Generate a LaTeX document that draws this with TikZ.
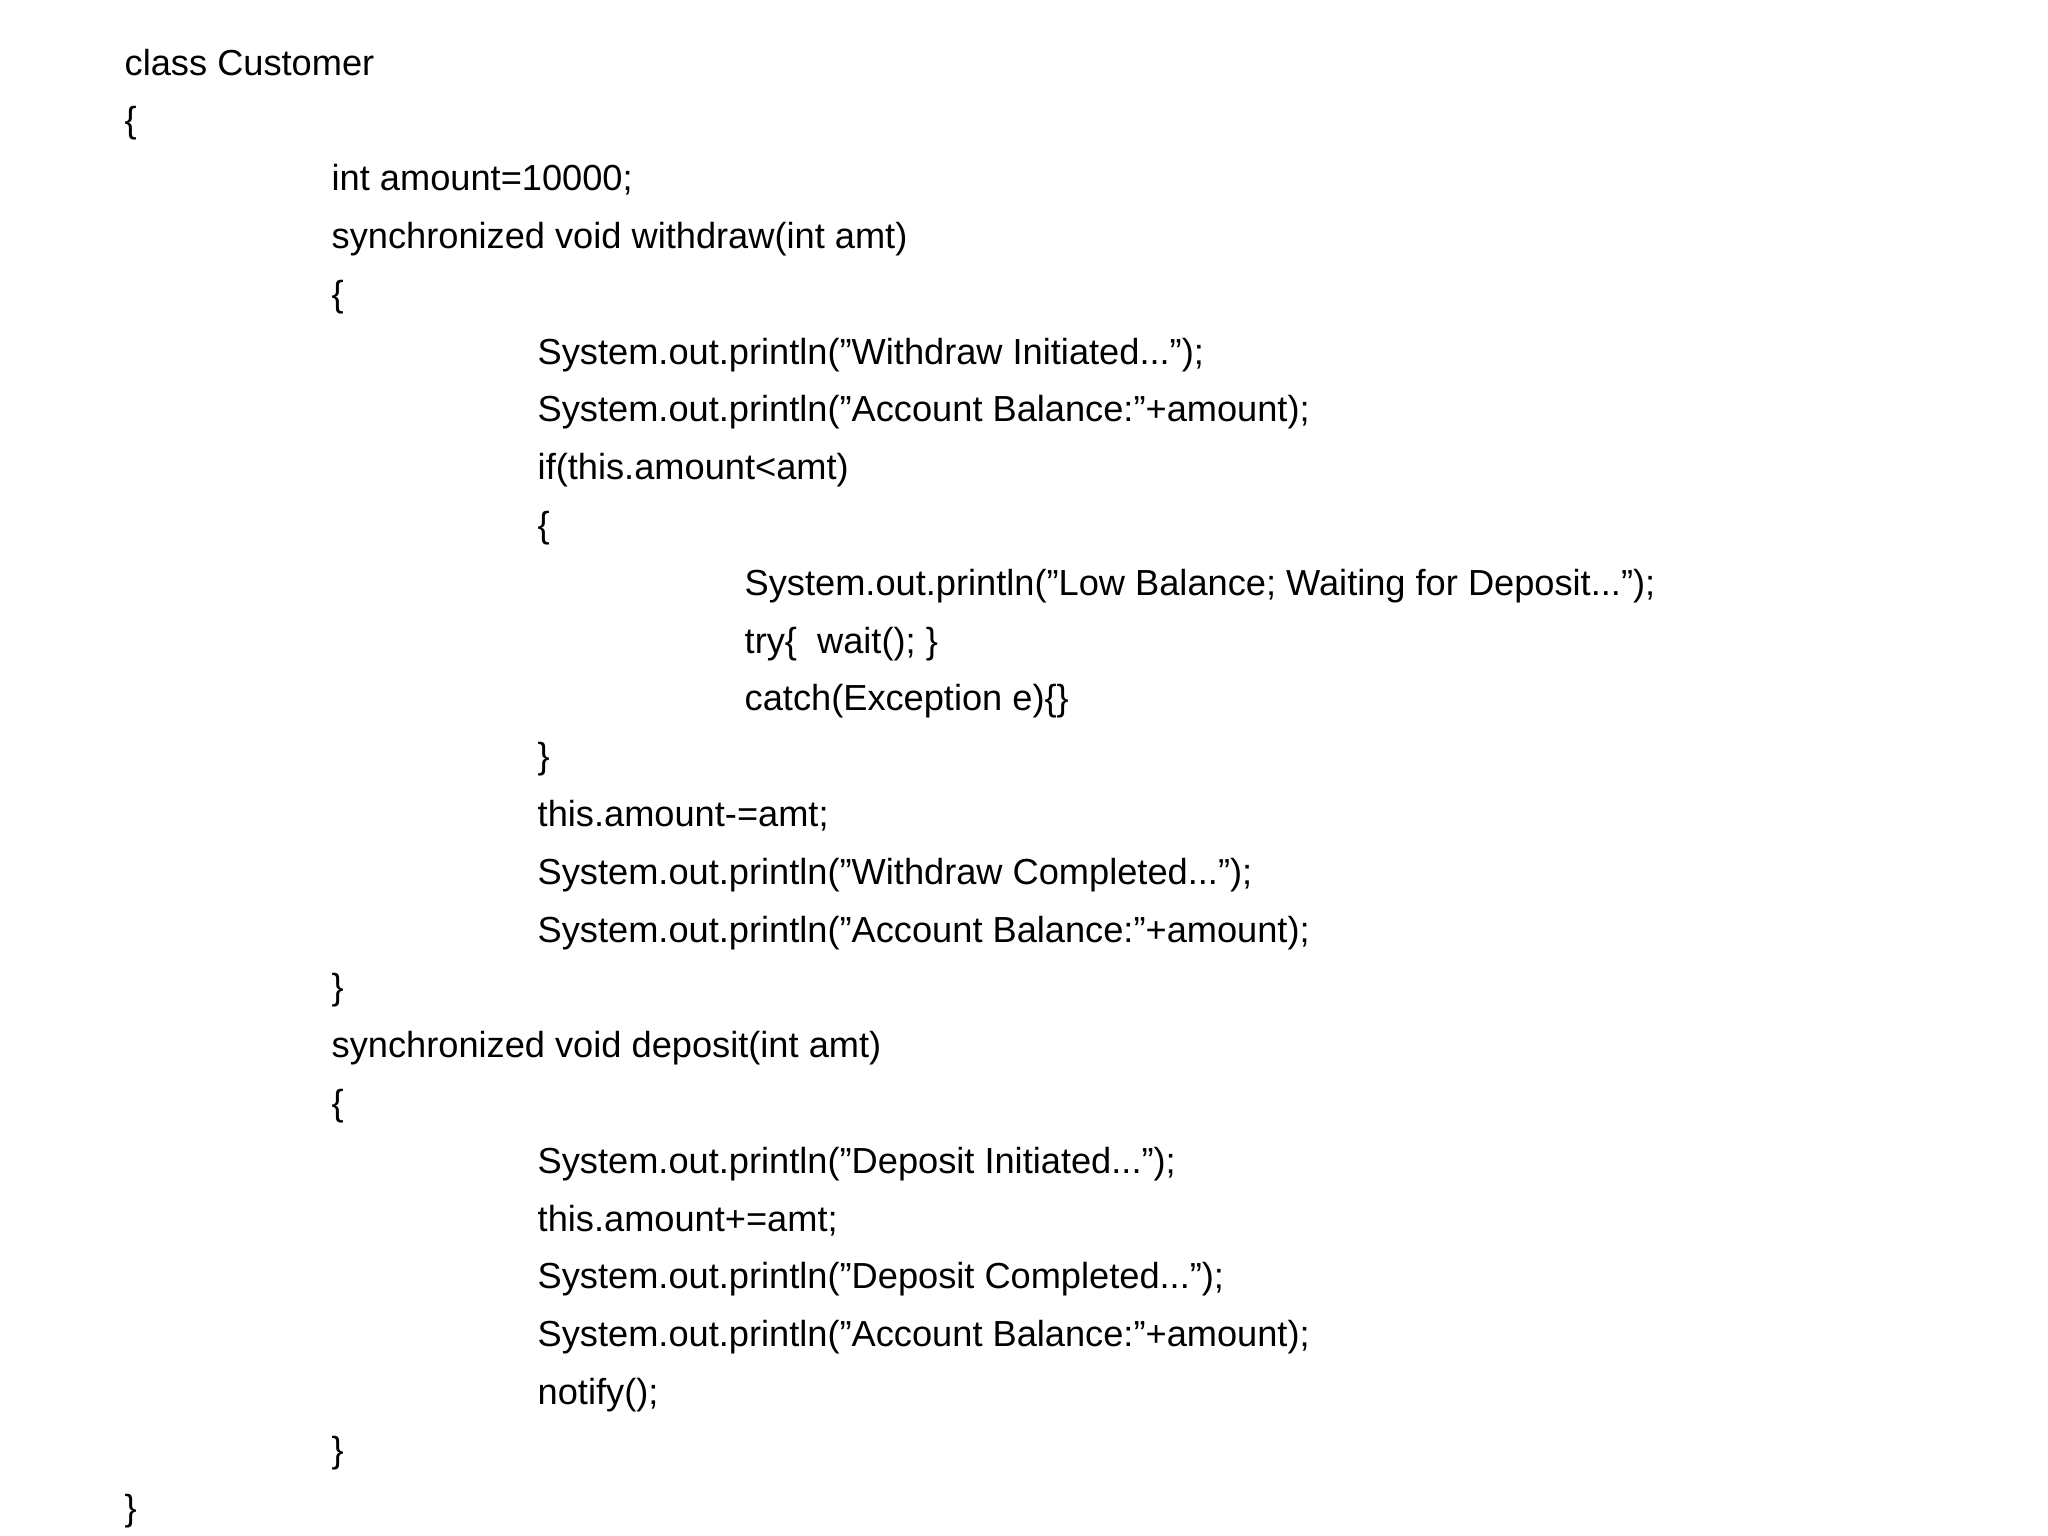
\documentclass[tikz,border=0pt]{standalone}
\usepackage{fontspec}
\setmainfont{Liberation Sans}
\begin{document}
\begin{tikzpicture}[x=0.01cm,y=-0.01cm,
  code/.style={anchor=base west,inner sep=0pt,font=\fontsize{10.3pt}{12pt}\selectfont}]
\useasboundingbox[fill=white] (0,0) rectangle (2048,1536);
\def\ya{75}\def\dy{57.8}
\newcommand{\cl}[3]{\node[code] (#1) at (#2,{\ya+\dy*#1}) {#3};}
\cl{0}{124}{class Customer}
\cl{1}{124}{\{}
\cl{2}{331}{int amount=10000;}
\cl{3}{331}{synchronized void withdraw(int amt)}
\cl{4}{331}{\{}
\cl{5}{537}{System.out.println("Withdraw Initiated...");}
\cl{6}{537}{System.out.println("Account Balance:"+amount);}
\cl{7}{537}{if(this.amount<amt)}
\cl{8}{537}{\{}
\cl{9}{744}{System.out.println("Low Balance; Waiting for Deposit...");}
\cl{10}{744}{try\{\ \ wait(); \}}
\cl{11}{744}{catch(Exception e)\{\}}
\cl{12}{537}{\}}
\cl{13}{537}{this.amount-=amt;}
\cl{14}{537}{System.out.println("Withdraw Completed...");}
\cl{15}{537}{System.out.println("Account Balance:"+amount);}
\cl{16}{331}{\}}
\cl{17}{331}{synchronized void deposit(int amt)}
\cl{18}{331}{\{}
\cl{19}{537}{System.out.println("Deposit Initiated...");}
\cl{20}{537}{this.amount+=amt;}
\cl{21}{537}{System.out.println("Deposit Completed...");}
\cl{22}{537}{System.out.println("Account Balance:"+amount);}
\cl{23}{537}{notify();}
\cl{24}{331}{\}}
\cl{25}{124}{\}}
\end{tikzpicture}
\end{document}
